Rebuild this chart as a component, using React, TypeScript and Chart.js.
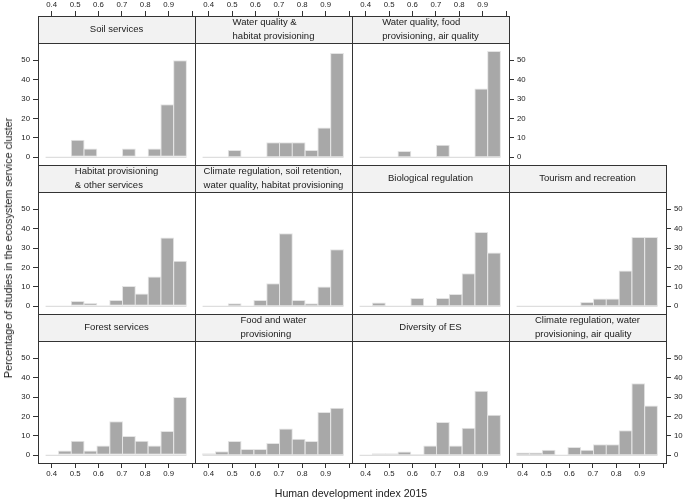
import { useEffect, useRef } from "react"
import { Chart, registerables, type ChartConfiguration, type Plugin } from "chart.js"

Chart.register(...registerables)

// histogram bins (HDI 2015) and axis ticks
const binEdges = [0.374, 0.429, 0.484, 0.538, 0.593, 0.648, 0.703, 0.757, 0.812, 0.867, 0.921, 0.976]
const xTicks = [0.4, 0.5, 0.6, 0.7, 0.8, 0.9, 1.0]
const yTicks = [0, 10, 20, 30, 40, 50]

// percentage of studies per bin, one array per cluster
const soilServices = [0, 0, 9.1, 4.5, 0, 0, 4.5, 0, 4.5, 27.3, 50]
const waterHabitat = [0, 0, 3.8, 0, 0, 7.7, 7.7, 7.7, 3.8, 15.4, 53.8]
const waterFoodAir = [0, 0, 0, 3.2, 0, 0, 6.5, 0, 0, 35.5, 54.8]
const habitatOther = [0, 0, 2.7, 1.7, 0.5, 3.3, 10.5, 6.6, 15.3, 35.5, 23.5]
const climateSoilWaterHabitat = [0, 0, 1.6, 0, 3.3, 11.9, 37.7, 3.3, 1.6, 10.2, 29.4]
const biologicalRegulation = [0, 1.9, 0, 0, 4.3, 0, 4.3, 6.4, 17, 38.3, 27.7]
const tourismRecreation = [0, 0, 0, 0, 0, 2.2, 4, 4, 18.4, 35.7, 35.7]
const forestServices = [0, 2.5, 7.5, 2.5, 5, 17.5, 10, 7.5, 5, 12.5, 30]
const foodWater = [1.1, 2.1, 7.4, 3.2, 3.2, 6.4, 13.8, 8.5, 7.4, 22.3, 24.5]
const diversityES = [0, 1, 1, 1.9, 0.5, 5, 17.1, 5, 14.2, 33.2, 20.9]
const climateWaterAir = [1.4, 1.4, 2.9, 0, 4.3, 2.9, 5.7, 5.7, 12.9, 37.1, 25.7]

const panels = [
  { title: ["Soil services"], values: soilServices, row: 0, col: 0 },
  { title: ["Water quality &", "habitat provisioning"], values: waterHabitat, row: 0, col: 1 },
  { title: ["Water quality, food", "provisioning, air quality"], values: waterFoodAir, row: 0, col: 2 },
  { title: ["Habitat provisioning", "& other services"], values: habitatOther, row: 1, col: 0 },
  {
    title: ["Climate regulation, soil retention,", "water quality, habitat provisioning"],
    values: climateSoilWaterHabitat,
    row: 1,
    col: 1,
  },
  { title: ["Biological regulation"], values: biologicalRegulation, row: 1, col: 2 },
  { title: ["Tourism and recreation"], values: tourismRecreation, row: 1, col: 3 },
  { title: ["Forest services"], values: forestServices, row: 2, col: 0 },
  { title: ["Food and water", "provisioning"], values: foodWater, row: 2, col: 1 },
  { title: ["Diversity of ES"], values: diversityES, row: 2, col: 2 },
  { title: ["Climate regulation, water", "provisioning, air quality"], values: climateWaterAir, row: 2, col: 3 },
]

// layout
const PANEL_W = 157
const ROW_H = 149
const STRIP_H = 27
const FIRST_LEFT = 38
const FIRST_TOP = 16
const AXIS_L = 38
const AXIS_R = 30
const AXIS_T = 16
const AXIS_B = 24

const X_MIN = 0.3415
const X_MAX = 1.0125
const Y_MIN = -3.97
const Y_PLOT_MAX = 58.9
// y range extended upwards so the strip sits inside the chart area
const Y_MAX = Y_MIN + ((Y_PLOT_MAX - Y_MIN) * ROW_H) / (ROW_H - STRIP_H)

const FONT = '"Liberation Sans", Arial, Helvetica, sans-serif'
const LINE = "#333333"

const stripPlugin: Plugin = {
  id: "strip",
  afterDraw(chart, _args, opts: any) {
    const { ctx, chartArea } = chart
    const { left, right, top, bottom } = chartArea
    const stripBottom = Math.round(chart.scales.y.getPixelForValue(Y_PLOT_MAX))
    ctx.save()
    ctx.fillStyle = "#f2f2f2"
    ctx.fillRect(left, top, right - left, stripBottom - top)
    ctx.strokeStyle = LINE
    ctx.lineWidth = 1
    ctx.beginPath()
    ctx.moveTo(left, stripBottom + 0.5)
    ctx.lineTo(right + 1, stripBottom + 0.5)
    ctx.stroke()
    ctx.strokeRect(left + 0.5, top + 0.5, right - left, bottom - top)

    const lines: string[] = opts.lines || []
    ctx.font = `9.5px ${FONT}`
    ctx.fillStyle = "#1a1a1a"
    ctx.textBaseline = "middle"
    ctx.textAlign = "left"
    const w = Math.max(...lines.map((l) => ctx.measureText(l).width))
    const x0 = (left + right) / 2 - w / 2
    const cy = (top + stripBottom) / 2
    lines.forEach((l, i) => {
      ctx.fillText(l, x0, cy + (i - (lines.length - 1) / 2) * 14)
    })
    ctx.restore()
  },
}

function xAxis(show: boolean, position: "top" | "bottom", size: number) {
  return {
    type: "linear" as const,
    position,
    min: X_MIN,
    max: X_MAX,
    offset: false,
    afterBuildTicks: (s: any) => {
      s.ticks = xTicks.map((value) => ({ value }))
    },
    afterFit: (s: any) => {
      s.height = size
    },
    ticks: {
      display: show,
      autoSkip: false,
      maxRotation: 0,
      padding: 1,
      color: "#222",
      font: { family: FONT, size: 7.8 },
      callback: (v: any) => (Number(v) > 0.95 ? "" : Number(v).toFixed(1)),
    },
    grid: { display: show, drawOnChartArea: false, tickLength: 5, color: LINE, offset: false },
    border: { display: false },
  }
}

function yAxis(show: boolean, position: "left" | "right", size: number) {
  return {
    type: "linear" as const,
    position,
    min: Y_MIN,
    max: Y_MAX,
    afterBuildTicks: (s: any) => {
      s.ticks = yTicks.map((value) => ({ value }))
    },
    afterFit: (s: any) => {
      s.width = size
    },
    ticks: {
      display: show,
      autoSkip: false,
      padding: 3,
      color: "#222",
      font: { family: FONT, size: 7.8 },
      callback: (v: any) => String(v),
    },
    grid: { display: show, drawOnChartArea: false, tickLength: 5, color: LINE },
    border: { display: false },
  }
}

interface PanelProps {
  title: string[]
  values: number[]
  row: number
  col: number
}

function Panel({ title, values, row, col }: PanelProps) {
  const canvasRef = useRef<HTMLCanvasElement>(null)

  useEffect(() => {
    if (!canvasRef.current) return

    const centers = binEdges.slice(0, -1).map((e, i) => (e + binEdges[i + 1]) / 2)
    const rightmost = row === 0 ? col === 2 : col === 3

    const config: ChartConfiguration = {
      type: "bar",
      data: {
        datasets: [
          {
            type: "bar",
            data: values.map((y, i) => ({ x: centers[i], y })),
            backgroundColor: "#a8a8a8",
            borderColor: "#e4e4e4",
            borderWidth: 1,
            borderSkipped: false,
            barPercentage: 1.08,
            categoryPercentage: 1,
            xAxisID: "x",
            yAxisID: "y",
            order: 1,
          },
          {
            type: "line",
            data: [
              { x: binEdges[0], y: 0 },
              { x: binEdges[binEdges.length - 1], y: 0 },
            ],
            borderColor: "#dedede",
            borderWidth: 1.2,
            pointRadius: 0,
            xAxisID: "x",
            yAxisID: "y",
            order: 2,
          },
        ] as any,
      },
      options: {
        responsive: false,
        animation: false,
        events: [],
        layout: { padding: 0 },
        plugins: {
          legend: { display: false },
          tooltip: { enabled: false },
          strip: { lines: title },
        } as any,
        scales: {
          x: xAxis(row === 2, "bottom", AXIS_B),
          x2: xAxis(row === 0, "top", AXIS_T),
          y: yAxis(col === 0, "left", AXIS_L),
          y2: yAxis(rightmost, "right", AXIS_R),
        } as any,
      },
      plugins: [stripPlugin],
    }

    const chart = new Chart(canvasRef.current, config)
    return () => chart.destroy()
  }, [title, values, row, col])

  const left = FIRST_LEFT + col * PANEL_W - AXIS_L
  const top = FIRST_TOP + row * ROW_H - AXIS_T

  return (
    <div style={{ position: "absolute", left, top }}>
      <canvas
        ref={canvasRef}
        width={AXIS_L + PANEL_W + AXIS_R}
        height={AXIS_T + ROW_H + AXIS_B}
      />
    </div>
  )
}

export default function App() {
  return (
    <div
      style={{
        position: "absolute",
        left: 0,
        top: 0,
        width: 685,
        height: 500,
        background: "#fff",
        overflow: "hidden",
        fontFamily: FONT,
        color: "#1a1a1a",
      }}
    >
      {panels.map((p) => (
        <Panel key={p.title.join(" ")} {...p} />
      ))}
      <div
        style={{
          position: "absolute",
          left: 8,
          top: 248,
          transform: "translate(-50%, -50%) rotate(-90deg)",
          whiteSpace: "nowrap",
          fontSize: 10.8,
        }}
      >
        Percentage of studies in the ecosystem service cluster
      </div>
      <div
        style={{
          position: "absolute",
          left: 351,
          top: 493,
          transform: "translate(-50%, -50%)",
          whiteSpace: "nowrap",
          fontSize: 10.6,
        }}
      >
        Human development index 2015
      </div>
    </div>
  )
}
